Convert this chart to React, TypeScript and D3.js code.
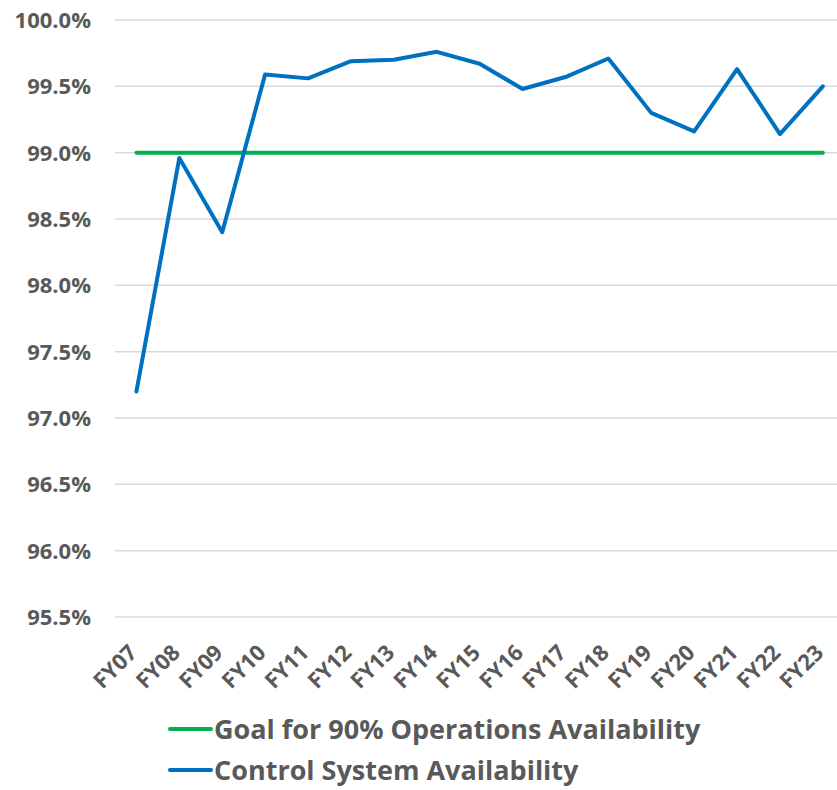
import React, { useEffect, useRef } from "react";
import * as d3 from "d3";

// fiscal years and values
const years = ["FY07", "FY08", "FY09", "FY10", "FY11", "FY12", "FY13", "FY14", "FY15",
  "FY16", "FY17", "FY18", "FY19", "FY20", "FY21", "FY22", "FY23"];
const controlSystem = [97.2, 98.96, 98.4, 99.59, 99.56, 99.69, 99.7, 99.76, 99.67,
  99.48, 99.57, 99.71, 99.3, 99.16, 99.63, 99.14, 99.5];
const goal = years.map(() => 99.0);
const yTicks = [95.5, 96.0, 96.5, 97.0, 97.5, 98.0, 98.5, 99.0, 99.5, 100.0];

const FONT = "'Century Gothic', 'Open Sans', Lato, sans-serif";

const App = () => {
  const ref = useRef<SVGSVGElement>(null);

  useEffect(() => {
    const w = 837;
    const h = 790;
    const svg = d3.select(ref.current).attr("width", w).attr("height", h);
    svg.selectAll("*").remove();

    const x = d3.scaleBand().domain(years).range([115, 115 + 17 * 42.9]);
    const y = d3.scaleLinear().domain([95.5, 100]).range([617, 20]);
    const cx = (d: string) => (x(d) as number) + x.bandwidth() / 2;

    // gridlines
    svg.append("g")
      .selectAll("line")
      .data(yTicks)
      .join("line")
      .attr("x1", 115)
      .attr("x2", w)
      .attr("y1", d => y(d))
      .attr("y2", d => y(d))
      .attr("stroke", "#d9d9d9")
      .attr("stroke-width", 1.5);

    // y labels
    svg.append("g")
      .selectAll("text")
      .data(yTicks)
      .join("text")
      .attr("x", 91)
      .attr("y", d => y(d))
      .attr("dy", "0.36em")
      .attr("text-anchor", "end")
      .attr("font-family", FONT)
      .attr("font-weight", "bold")
      .attr("font-size", 22)
      .attr("fill", "#595959")
      .text(d => d.toFixed(1) + "%");

    // x labels
    svg.append("g")
      .selectAll("text")
      .data(years)
      .join("text")
      .attr("transform", d => `translate(${cx(d) + 2},${654}) rotate(-45)`)
      .attr("text-anchor", "end")
      .attr("font-family", FONT)
      .attr("font-weight", "bold")
      .attr("font-size", 22)
      .attr("fill", "#595959")
      .text(d => d);

    const line = d3.line<number>()
      .x((d, i) => cx(years[i]))
      .y(d => y(d));

    svg.append("path")
      .datum(goal)
      .attr("d", line)
      .attr("fill", "none")
      .attr("stroke", "#00B050")
      .attr("stroke-width", 4)
      .attr("stroke-linecap", "round");

    svg.append("path")
      .datum(controlSystem)
      .attr("d", line)
      .attr("fill", "none")
      .attr("stroke", "#0070C0")
      .attr("stroke-width", 4)
      .attr("stroke-linejoin", "round")
      .attr("stroke-linecap", "round");

    // legend
    const legend = [
      { label: "Goal for 90% Operations Availability", color: "#00B050" },
      { label: "Control System Availability", color: "#0070C0" },
    ];
    const lg = svg.append("g")
      .selectAll("g")
      .data(legend)
      .join("g")
      .attr("transform", (d, i) => `translate(170,${729 + i * 41})`);
    lg.append("line")
      .attr("x1", 0)
      .attr("x2", 41)
      .attr("stroke", d => d.color)
      .attr("stroke-width", 4)
      .attr("stroke-linecap", "round");
    lg.append("text")
      .attr("x", 44)
      .attr("dy", "0.36em")
      .attr("font-family", FONT)
      .attr("font-weight", "bold")
      .attr("font-size", 27)
      .attr("fill", "#595959")
      .text(d => d.label);
  }, []);

  return (
    <svg ref={ref} style={{ position: "absolute", left: 0, top: 0 }}></svg>
  );
};

export default App;
